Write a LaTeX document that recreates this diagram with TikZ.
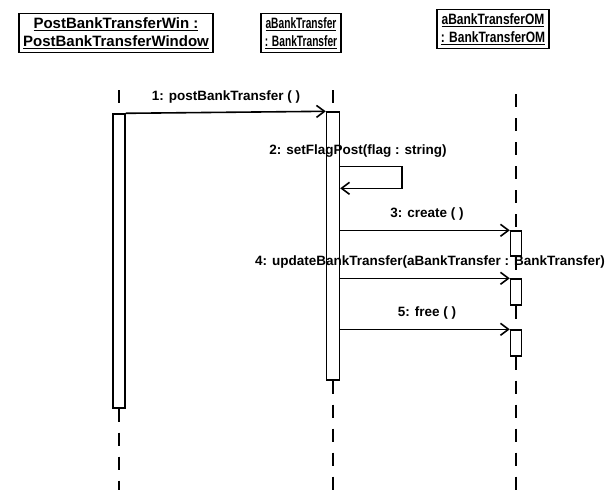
\documentclass[tikz,border=0pt]{standalone}
\usepackage{fontspec}
\setmainfont{Liberation Sans}
\usepackage{graphicx}
\usepackage{tikz}
\usetikzlibrary{arrows.meta}
\newcommand{\squeezed}[2]{\scalebox{#1}[1]{\underline{#2}}}

\begin{document}
\begin{tikzpicture}[x=1pt,y=-1pt, font=\fontsize{13.5}{15}\selectfont\bfseries,
    obj/.style={draw, line width=1.5pt, align=center, inner sep=4pt, font=\fontsize{15}{18}\selectfont\bfseries},
    bar/.style={draw, line width=1.4pt, fill=white, minimum width=12pt, inner sep=0pt},
    life/.style={line width=1.5pt, dash pattern=on 13pt off 11pt},
    msg/.style={line width=1.6pt, -{Straight Barb[length=8pt,width=12pt,line width=1.6pt]}}]
\useasboundingbox (0,0) rectangle (612,490);
% object boxes
\node[obj] (win) at (116,33) {\underline{PostBankTransferWin :}\\\underline{PostBankTransferWindow}};
\node[obj] (bt) at (301,33) {\squeezed{0.68}{aBankTransfer}\\\squeezed{0.68}{: BankTransfer}};
\node[obj] (btom) at (493,29) {\squeezed{0.8}{aBankTransferOM}\\\squeezed{0.8}{: BankTransferOM}};
% lifeline ends
\coordinate (l1top) at (119,90);
\coordinate (l1bot) at (119,490);
\coordinate (l2top) at (333,90);
\coordinate (l2bot) at (333,490);
\coordinate (l3top) at (516,94);
\coordinate (l3bot) at (516,490);
% activations
\node[bar, minimum height=294pt] (act1) at (119,261) {};
\node[bar, minimum height=268pt, minimum width=13pt] (act2) at (333,246) {};
\node[bar, minimum height=25pt, minimum width=11pt] (om1) at (516,243.5) {};
\node[bar, minimum height=26pt, minimum width=11pt] (om2) at (516,292) {};
\node[bar, minimum height=26pt, minimum width=11pt] (om3) at (516,343) {};
\draw[life] (l1top) -- (act1.north);
\draw[life] (act1.south) -- (l1bot);
\draw[life] (l2top) -- (act2.north);
\draw[life] (act2.south) -- (l2bot);
\draw[life] (l3top) -- (om1.north);
\draw[life] (om1.south) -- (om2.north);
\draw[life] (om2.south) -- (om3.north);
\draw[life] (om3.south) -- (l3bot);
% messages
\draw[msg] (act1.north east) -- (act2.north west);
\node (m1) at (226,97) {1: postBankTransfer ( )};
\draw[msg] ([yshift=-55pt]act2.north east) -- ++(62,0) -- ++(0,22) -- ([yshift=-77pt]act2.north east);
\node (m2) at (358,151) {2: setFlagPost(flag : string)};
\draw[msg] (om1.north west -| act2.east) -- (om1.north west);
\node (m3) at (427,214) {3: create ( )};
\draw[msg] (om2.north west -| act2.east) -- (om2.north west);
\node (m4) at (430,262) {4: updateBankTransfer(aBankTransfer : BankTransfer)};
\draw[msg] (om3.north west -| act2.east) -- (om3.north west);
\node (m5) at (427,313) {5: free ( )};
\end{tikzpicture}
\end{document}
